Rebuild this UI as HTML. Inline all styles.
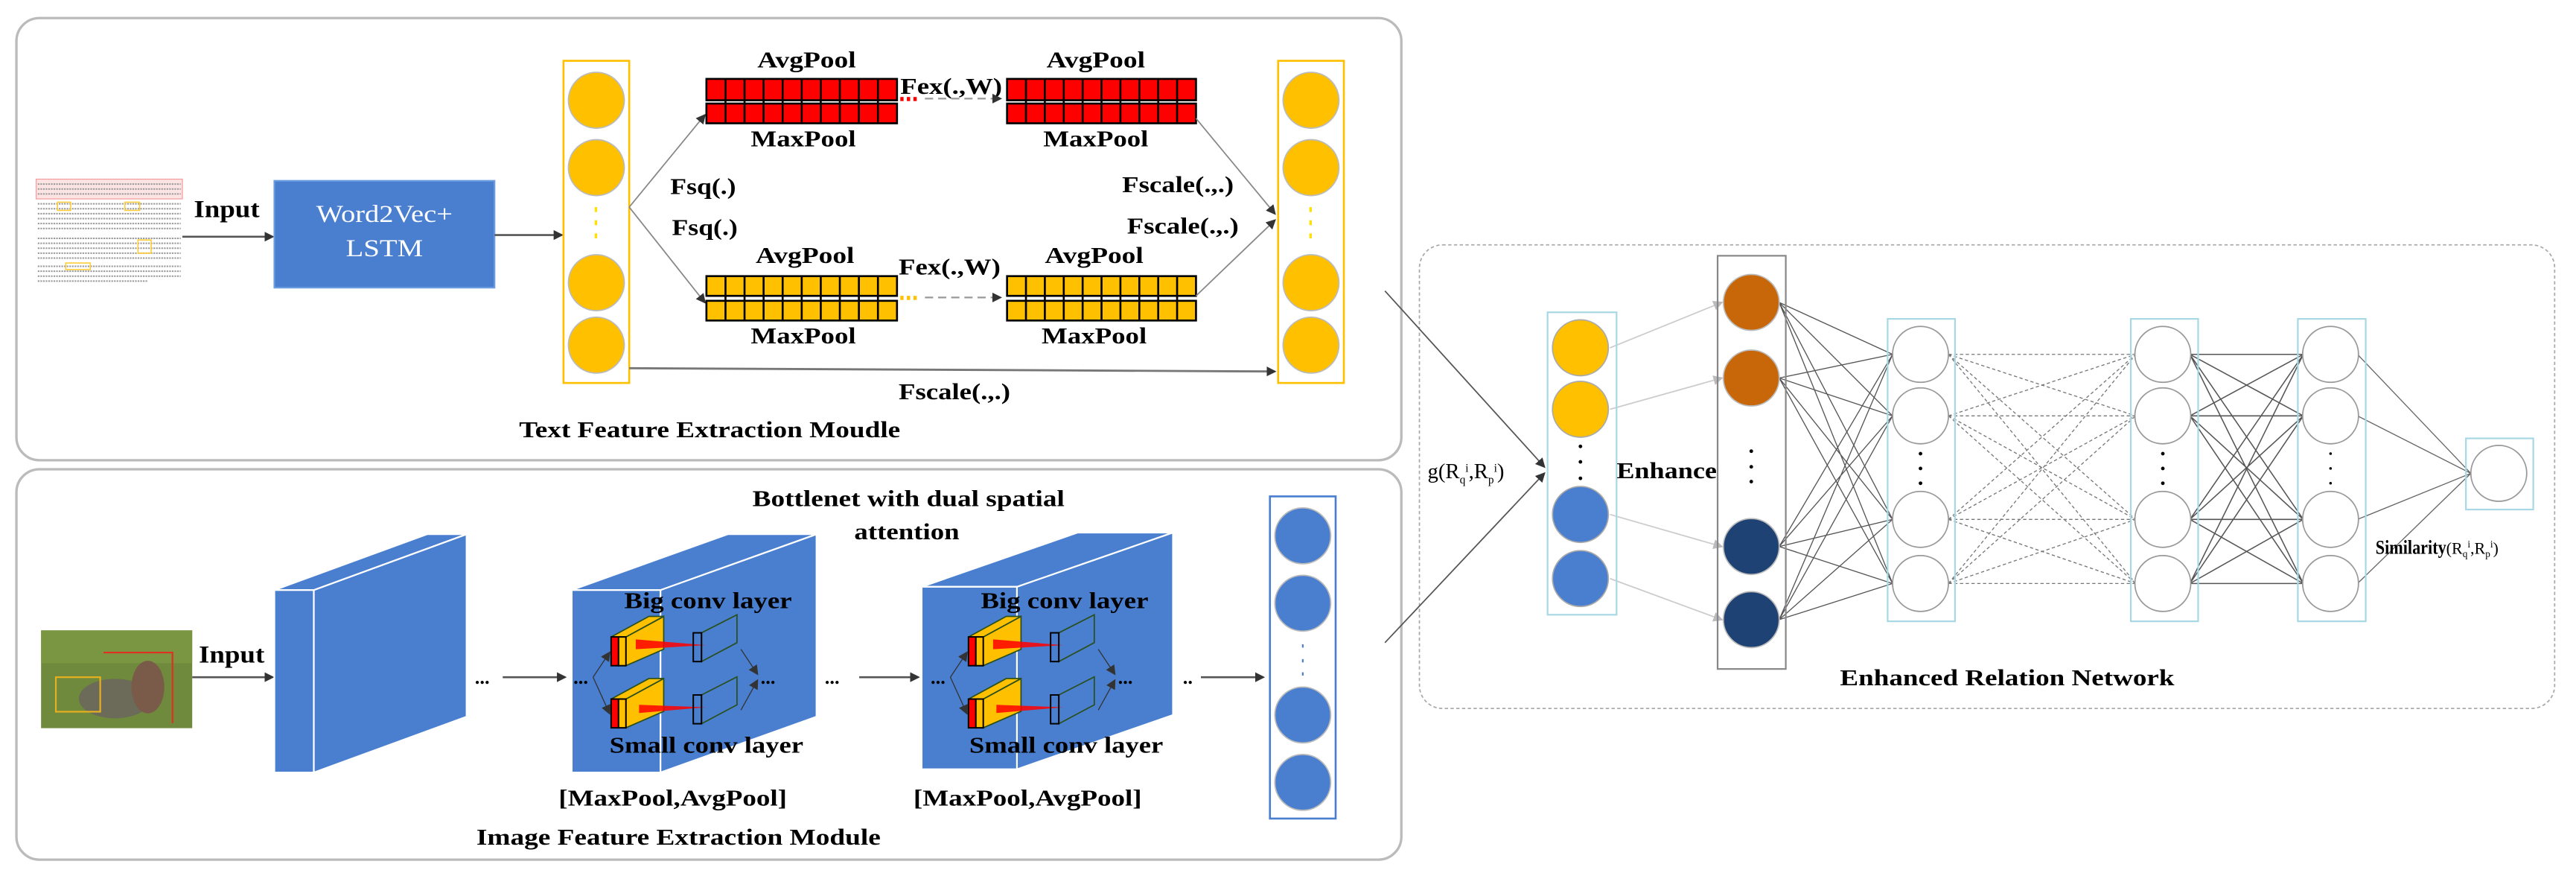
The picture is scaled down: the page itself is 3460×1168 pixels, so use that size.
<!DOCTYPE html>
<html><head><meta charset="utf-8"><style>
html,body{margin:0;padding:0;background:#fff;}
svg{display:block;}
text{font-family:"Liberation Serif",serif;font-weight:bold;fill:#000;}
</style></head><body>
<svg width="3460" height="1168" viewBox="0 0 1568 529.3" preserveAspectRatio="none" xmlns="http://www.w3.org/2000/svg">
<defs>
<marker id="ar" markerWidth="6" markerHeight="6" refX="5" refY="3" orient="auto" markerUnits="userSpaceOnUse"><path d="M0,0 L6,3 L0,6 z" fill="#333"/></marker>
<marker id="arl" markerWidth="6" markerHeight="6" refX="5" refY="3" orient="auto" markerUnits="userSpaceOnUse"><path d="M0,0 L6,3 L0,6 z" fill="#bbb"/></marker>
</defs>

<!-- panels -->
<rect x="10" y="11" width="843" height="269" rx="14" fill="#fff" stroke="#bbb" stroke-width="1.5"/>
<rect x="10" y="285.5" width="843" height="237.5" rx="14" fill="#fff" stroke="#bbb" stroke-width="1.5"/>
<rect x="864" y="149" width="691" height="282" rx="14" fill="none" stroke="#aaa" stroke-width="0.8" stroke-dasharray="2,1.5"/>

<!-- ===== TEXT MODULE ===== -->
<g>
<rect x="22" y="109" width="89" height="12" fill="#fde4e4" stroke="#f4a0a0" stroke-width="0.6"/>
<g stroke="#999" stroke-width="0.9">
<line x1="23" y1="112" x2="110" y2="112" stroke-dasharray="1,0.6"/><line x1="23" y1="115" x2="110" y2="115" stroke-dasharray="1,0.6"/><line x1="23" y1="118" x2="110" y2="118" stroke-dasharray="1,0.6"/>
<line x1="23" y1="124" x2="110" y2="124" stroke-dasharray="1,0.6"/><line x1="23" y1="127" x2="110" y2="127" stroke-dasharray="1,0.6"/><line x1="23" y1="130" x2="110" y2="130" stroke-dasharray="1,0.6"/><line x1="23" y1="133" x2="110" y2="133" stroke-dasharray="1,0.6"/><line x1="23" y1="136" x2="110" y2="136" stroke-dasharray="1,0.6"/><line x1="23" y1="139" x2="110" y2="139" stroke-dasharray="1,0.6"/>
<line x1="23" y1="145" x2="110" y2="145" stroke-dasharray="1,0.6"/><line x1="23" y1="148" x2="110" y2="148" stroke-dasharray="1,0.6"/><line x1="23" y1="151" x2="110" y2="151" stroke-dasharray="1,0.6"/><line x1="23" y1="154" x2="110" y2="154" stroke-dasharray="1,0.6"/><line x1="23" y1="157" x2="110" y2="157" stroke-dasharray="1,0.6"/>
<line x1="23" y1="162" x2="110" y2="162" stroke-dasharray="1,0.6"/><line x1="23" y1="165" x2="110" y2="165" stroke-dasharray="1,0.6"/><line x1="23" y1="168" x2="110" y2="168" stroke-dasharray="1,0.6"/><line x1="23" y1="171" x2="90" y2="171" stroke-dasharray="1,0.6"/>
</g>
<rect x="35" y="123" width="8" height="5" fill="none" stroke="#fc3" stroke-width="0.7"/>
<rect x="76" y="123" width="9" height="5" fill="none" stroke="#fc3" stroke-width="0.7"/>
<rect x="84" y="146" width="8" height="8" fill="none" stroke="#fc3" stroke-width="0.7"/>
<rect x="40" y="160" width="15" height="4" fill="none" stroke="#fc3" stroke-width="0.7"/>
</g>
<text x="118" y="132" font-size="15" textLength="40" lengthAdjust="spacingAndGlyphs">Input</text>
<line x1="111" y1="144" x2="166" y2="144" stroke="#555" stroke-width="1.2" marker-end="url(#ar)"/>
<rect x="167" y="110" width="134" height="65" fill="#4a7fd0" stroke="#6b9be0" stroke-width="1"/>
<text x="234" y="135" font-size="15" style="font-weight:normal;fill:#fff" text-anchor="middle" textLength="83" lengthAdjust="spacingAndGlyphs">Word2Vec+</text>
<text x="234" y="156" font-size="15" style="font-weight:normal;fill:#fff" text-anchor="middle" textLength="47" lengthAdjust="spacingAndGlyphs">LSTM</text>
<line x1="301" y1="143" x2="342" y2="143" stroke="#555" stroke-width="1.2" marker-end="url(#ar)"/>

<rect x="343" y="37" width="40" height="196" fill="#fff" stroke="#ffc000" stroke-width="1.2"/>
<g fill="#ffc000" stroke="#bbb" stroke-width="0.8">
<ellipse cx="363" cy="61" rx="17" ry="17"/><ellipse cx="363" cy="102" rx="17" ry="17"/>
<ellipse cx="363" cy="172" rx="17" ry="17"/><ellipse cx="363" cy="210" rx="17" ry="17"/>
</g>
<g fill="#ffe000"><rect x="362" y="126" width="1.5" height="3"/><rect x="362" y="134" width="1.5" height="3"/><rect x="362" y="142" width="1.5" height="3"/></g>
<rect x="778" y="37" width="40" height="196" fill="#fff" stroke="#ffc000" stroke-width="1.2"/>
<g fill="#ffc000" stroke="#bbb" stroke-width="0.8">
<ellipse cx="798" cy="61" rx="17" ry="17"/><ellipse cx="798" cy="102" rx="17" ry="17"/>
<ellipse cx="798" cy="172" rx="17" ry="17"/><ellipse cx="798" cy="210" rx="17" ry="17"/>
</g>
<g fill="#ffe000"><rect x="797" y="126" width="1.5" height="3"/><rect x="797" y="134" width="1.5" height="3"/><rect x="797" y="142" width="1.5" height="3"/></g>

<g stroke="#000" stroke-width="1.2">
<g fill="#f00">
<rect x="430" y="48" width="116" height="13"/><rect x="430" y="63" width="116" height="12"/>
<rect x="613" y="48" width="115" height="13"/><rect x="613" y="63" width="115" height="12"/>
</g>
<g fill="#ffc000">
<rect x="430" y="168" width="116" height="12"/><rect x="430" y="183" width="116" height="12"/>
<rect x="613" y="168" width="115" height="12"/><rect x="613" y="183" width="115" height="12"/>
</g>
<path d="M441.6,48v27M453.2,48v27M464.8,48v27M476.4,48v27M488,48v27M499.6,48v27M511.2,48v27M522.8,48v27M534.4,48v27
M624.5,48v27M636,48v27M647.5,48v27M659,48v27M670.5,48v27M682,48v27M693.5,48v27M705,48v27M716.5,48v27
M441.6,168v27M453.2,168v27M464.8,168v27M476.4,168v27M488,168v27M499.6,168v27M511.2,168v27M522.8,168v27M534.4,168v27
M624.5,168v27M636,168v27M647.5,168v27M659,168v27M670.5,168v27M682,168v27M693.5,168v27M705,168v27M716.5,168v27" fill="none"/>
</g>
<text x="461" y="41" font-size="14" textLength="60" lengthAdjust="spacingAndGlyphs">AvgPool</text>
<text x="637" y="41" font-size="14" textLength="60" lengthAdjust="spacingAndGlyphs">AvgPool</text>
<text x="457" y="89" font-size="14" textLength="64" lengthAdjust="spacingAndGlyphs">MaxPool</text>
<text x="635" y="89" font-size="14" textLength="64" lengthAdjust="spacingAndGlyphs">MaxPool</text>
<text x="548" y="57" font-size="14" textLength="62" lengthAdjust="spacingAndGlyphs">Fex(.,W)</text>
<text x="460" y="160" font-size="14" textLength="60" lengthAdjust="spacingAndGlyphs">AvgPool</text>
<text x="636" y="160" font-size="14" textLength="60" lengthAdjust="spacingAndGlyphs">AvgPool</text>
<text x="457" y="209" font-size="14" textLength="64" lengthAdjust="spacingAndGlyphs">MaxPool</text>
<text x="634" y="209" font-size="14" textLength="64" lengthAdjust="spacingAndGlyphs">MaxPool</text>
<text x="547" y="167" font-size="14" textLength="62" lengthAdjust="spacingAndGlyphs">Fex(.,W)</text>
<g fill="#f00"><rect x="548" y="59" width="2" height="2.5"/><rect x="552" y="59" width="2" height="2.5"/><rect x="556" y="59" width="2" height="2.5"/></g>
<line x1="563" y1="60" x2="609" y2="60" stroke="#999" stroke-width="1" stroke-dasharray="5,3" marker-end="url(#ar)"/>
<g fill="#ffc000"><rect x="548" y="180" width="2" height="2.5"/><rect x="552" y="180" width="2" height="2.5"/><rect x="556" y="180" width="2" height="2.5"/></g>
<line x1="563" y1="181" x2="609" y2="181" stroke="#999" stroke-width="1" stroke-dasharray="5,3" marker-end="url(#ar)"/>
<g stroke="#888" stroke-width="0.8" fill="none">
<line x1="383" y1="126" x2="429" y2="70" marker-end="url(#ar)"/>
<line x1="383" y1="126" x2="429" y2="184" marker-end="url(#ar)"/>
<line x1="728" y1="72" x2="776" y2="130" marker-end="url(#ar)"/>
<line x1="728" y1="180" x2="776" y2="134" marker-end="url(#ar)"/>
</g>
<line x1="383" y1="224" x2="776" y2="226" stroke="#777" stroke-width="1.3" marker-end="url(#ar)"/>
<text x="408" y="118" font-size="14" textLength="40" lengthAdjust="spacingAndGlyphs">Fsq(.)</text>
<text x="409" y="143" font-size="14" textLength="40" lengthAdjust="spacingAndGlyphs">Fsq(.)</text>
<text x="683" y="117" font-size="14" textLength="68" lengthAdjust="spacingAndGlyphs">Fscale(.,.)</text>
<text x="686" y="142" font-size="14" textLength="68" lengthAdjust="spacingAndGlyphs">Fscale(.,.)</text>
<text x="547" y="243" font-size="14" textLength="68" lengthAdjust="spacingAndGlyphs">Fscale(.,.)</text>
<text x="316" y="266" font-size="14" textLength="232" lengthAdjust="spacingAndGlyphs">Text Feature Extraction Moudle</text>

<!-- ===== IMAGE MODULE ===== -->
<rect x="25" y="383.5" width="92" height="59.5" fill="#6f8a3c"/>
<rect x="25" y="383.5" width="92" height="20" fill="#7d9844" opacity="0.8"/>
<ellipse cx="70" cy="425" rx="22" ry="12" fill="#6c6a58"/>
<ellipse cx="90" cy="418" rx="10" ry="16" fill="#7a5a48"/>
<rect x="34" y="412" width="27" height="21" fill="none" stroke="#e6b020" stroke-width="1"/>
<polyline points="63,397 105,397 105,440" fill="none" stroke="#e03020" stroke-width="1"/>
<text x="121" y="403" font-size="15" textLength="40" lengthAdjust="spacingAndGlyphs">Input</text>
<line x1="117" y1="412" x2="166" y2="412" stroke="#555" stroke-width="1.2" marker-end="url(#ar)"/>

<g fill="#4a7fd0" stroke="#fff" stroke-width="1">
<polygon points="191,359 284,325 284,436 191,470"/>
<polygon points="167,359 260,325 284,325 191,359"/>
<rect x="167" y="359" width="24" height="111"/>
</g>
<text x="289" y="416" font-size="12">...</text>
<line x1="306" y1="412" x2="344" y2="412" stroke="#555" stroke-width="1.2" marker-end="url(#ar)"/>
<g fill="#4a7fd0" stroke="#fff" stroke-width="1">
<polygon points="402,359 497,325 497,436 402,470"/>
<polygon points="348,359 443,325 497,325 402,359"/>
<rect x="348" y="359" width="54" height="111"/>
</g>
<g fill="#4a7fd0" stroke="#fff" stroke-width="1">
<polygon points="619,357 714,324 714,435 619,468"/>
<polygon points="561,357 656,324 714,324 619,357"/>
<rect x="561" y="357" width="58" height="111"/>
</g>

<g id="inner">
<g>
<polygon points="381,387.5 404,375 404,395 381,405" fill="#ffc000" stroke="#2a5020" stroke-width="0.8"/>
<polygon points="372,387.5 395,375 404,375 381,387.5" fill="#ffc000" stroke="#2a5020" stroke-width="0.8"/>
<rect x="372" y="387.5" width="4.5" height="17.5" fill="#f00" stroke="#000" stroke-width="0.9"/>
<rect x="376.5" y="387.5" width="4.5" height="17.5" fill="#ffc000" stroke="#000" stroke-width="0.9"/>
<polygon points="387,389 429.6,392.5 387,395" fill="#f00" opacity="0.85"/>
<polygon points="427,385 448.6,374 448.6,391 427,402.5" fill="none" stroke="#2a5020" stroke-width="0.8"/>
<rect x="422" y="385" width="5" height="17.5" fill="none" stroke="#000" stroke-width="0.9"/>
</g>
<g transform="translate(0,37.8)">
<polygon points="381,387.5 404,375 404,395 381,405" fill="#ffc000" stroke="#2a5020" stroke-width="0.8"/>
<polygon points="372,387.5 395,375 404,375 381,387.5" fill="#ffc000" stroke="#2a5020" stroke-width="0.8"/>
<rect x="372" y="387.5" width="4.5" height="17.5" fill="#f00" stroke="#000" stroke-width="0.9"/>
<rect x="376.5" y="387.5" width="4.5" height="17.5" fill="#ffc000" stroke="#000" stroke-width="0.9"/>
<polygon points="389,391 429.6,392.5 389,396" fill="#f00" opacity="0.85"/>
<polygon points="427,385 448.6,374 448.6,391 427,402.5" fill="none" stroke="#2a5020" stroke-width="0.8"/>
<rect x="422" y="385" width="5" height="17.5" fill="none" stroke="#000" stroke-width="0.9"/>
</g>
<g stroke="#333" stroke-width="0.6" fill="none">
<line x1="361" y1="412" x2="371" y2="397" marker-end="url(#ar)"/>
<line x1="361" y1="412" x2="371" y2="434" marker-end="url(#ar)"/>
<line x1="451" y1="395" x2="461" y2="410" marker-end="url(#ar)"/>
<line x1="451" y1="432" x2="461" y2="414" marker-end="url(#ar)"/>
</g>
<text x="349" y="416" font-size="12">...</text>
<text x="463" y="416" font-size="12">...</text>
</g>
<use href="#inner" transform="translate(217.5,0)"/>
<text x="380" y="370" font-size="14" textLength="102" lengthAdjust="spacingAndGlyphs">Big conv layer</text>
<text x="371" y="458" font-size="14" textLength="118" lengthAdjust="spacingAndGlyphs">Small conv layer</text>
<text x="597" y="370" font-size="14" textLength="102" lengthAdjust="spacingAndGlyphs">Big conv layer</text>
<text x="590" y="458" font-size="14" textLength="118" lengthAdjust="spacingAndGlyphs">Small conv layer</text>
<text x="340" y="490" font-size="14" textLength="139" lengthAdjust="spacingAndGlyphs">[MaxPool,AvgPool]</text>
<text x="556" y="490" font-size="14" textLength="139" lengthAdjust="spacingAndGlyphs">[MaxPool,AvgPool]</text>
<text x="458" y="308" font-size="14" textLength="190" lengthAdjust="spacingAndGlyphs">Bottlenet with dual spatial</text>
<text x="520" y="328" font-size="14" textLength="64" lengthAdjust="spacingAndGlyphs">attention</text>
<text x="290" y="514" font-size="14" textLength="246" lengthAdjust="spacingAndGlyphs">Image Feature Extraction Module</text>
<text x="502" y="416" font-size="12">...</text>
<line x1="523" y1="412" x2="559" y2="412" stroke="#555" stroke-width="1.2" marker-end="url(#ar)"/>
<text x="720" y="416" font-size="12">..</text>
<line x1="731" y1="412" x2="769" y2="412" stroke="#555" stroke-width="1.2" marker-end="url(#ar)"/>
<rect x="773" y="302" width="40" height="196" fill="#fff" stroke="#4a7fd0" stroke-width="1.2"/>
<g fill="#4a7fd0" stroke="#bbb" stroke-width="0.8">
<ellipse cx="793" cy="326" rx="17" ry="17"/><ellipse cx="793" cy="367" rx="17" ry="17"/>
<ellipse cx="793" cy="435" rx="17" ry="17"/><ellipse cx="793" cy="476" rx="17" ry="17"/>
</g>
<g fill="#4a7fd0"><rect x="792.5" y="392" width="1" height="2"/><rect x="792.5" y="401" width="1" height="2"/><rect x="792.5" y="409" width="1" height="2"/></g>

<!-- ===== RELATION NETWORK ===== -->
<line x1="843" y1="177" x2="940" y2="284" stroke="#555" stroke-width="0.8" marker-end="url(#ar)"/>
<line x1="843" y1="391" x2="940" y2="288" stroke="#555" stroke-width="0.8" marker-end="url(#ar)"/>
<text x="869" y="291" font-size="13" style="font-weight:normal">g(R<tspan font-size="7" dy="3">q</tspan><tspan font-size="7" dy="-7">i</tspan><tspan dy="4">,R</tspan><tspan font-size="7" dy="3">p</tspan><tspan font-size="7" dy="-7">i</tspan><tspan dy="4">)</tspan></text>

<g stroke="#ccc" stroke-width="0.8">
<line x1="980" y1="211.6" x2="1048" y2="184" marker-end="url(#arl)"/>
<line x1="980" y1="249" x2="1048" y2="230" marker-end="url(#arl)"/>
<line x1="980" y1="313" x2="1048" y2="332.5" marker-end="url(#arl)"/>
<line x1="980" y1="352" x2="1048" y2="377" marker-end="url(#arl)"/>
</g>
<g stroke="#555" stroke-width="0.6">
<path d="M1083,184L1152,215.6M1083,184L1152,253M1083,184L1152,316M1083,184L1152,355
M1083,230L1152,215.6M1083,230L1152,253M1083,230L1152,316M1083,230L1152,355
M1083,332.5L1152,215.6M1083,332.5L1152,253M1083,332.5L1152,316M1083,332.5L1152,355
M1083,377L1152,215.6M1083,377L1152,253M1083,377L1152,316M1083,377L1152,355"/>
</g>
<g stroke="#777" stroke-width="0.6" stroke-dasharray="2,1.5">
<path d="M1186,215.6L1300,215.6M1186,215.6L1300,253M1186,215.6L1300,316M1186,215.6L1300,355
M1186,253L1300,215.6M1186,253L1300,253M1186,253L1300,316M1186,253L1300,355
M1186,316L1300,215.6M1186,316L1300,253M1186,316L1300,316M1186,316L1300,355
M1186,355L1300,215.6M1186,355L1300,253M1186,355L1300,316M1186,355L1300,355"/>
</g>
<g stroke="#555" stroke-width="0.7">
<path d="M1333,215.6L1402,215.6M1333,215.6L1402,253M1333,215.6L1402,316M1333,215.6L1402,355
M1333,253L1402,215.6M1333,253L1402,253M1333,253L1402,316M1333,253L1402,355
M1333,316L1402,215.6M1333,316L1402,253M1333,316L1402,316M1333,316L1402,355
M1333,355L1402,215.6M1333,355L1402,253M1333,355L1402,316M1333,355L1402,355"/>
</g>
<g stroke="#666" stroke-width="0.6">
<path d="M1435,215.6L1504,288M1435,253L1504,288M1435,316L1504,288M1435,355L1504,288"/>
</g>

<rect x="942" y="190" width="42" height="184" fill="none" stroke="#a8d8e4" stroke-width="1"/>
<g stroke="#aaa" stroke-width="0.8">
<ellipse cx="962" cy="211.6" rx="17" ry="17" fill="#ffc000"/><ellipse cx="962" cy="249" rx="17" ry="17" fill="#ffc000"/>
<ellipse cx="962" cy="313" rx="17" ry="17" fill="#4a7fd0"/><ellipse cx="962" cy="352" rx="17" ry="17" fill="#4a7fd0"/>
</g>
<g fill="#000"><circle cx="962" cy="271.6" r="1.1"/><circle cx="962" cy="281" r="1.1"/><circle cx="962" cy="291" r="1.1"/></g>
<text x="984" y="291" font-size="14" textLength="61" lengthAdjust="spacingAndGlyphs">Enhance</text>
<rect x="1045.5" y="155.6" width="41.5" height="251.4" fill="none" stroke="#888" stroke-width="1"/>
<g stroke="#bbb" stroke-width="0.8">
<ellipse cx="1066" cy="184" rx="17" ry="17" fill="#c8660a"/><ellipse cx="1066" cy="230" rx="17" ry="17" fill="#c8660a"/>
<ellipse cx="1066" cy="332.5" rx="17" ry="17" fill="#1f4274"/><ellipse cx="1066" cy="377" rx="17" ry="17" fill="#1f4274"/>
</g>
<g fill="#000"><circle cx="1066" cy="274.5" r="1.1"/><circle cx="1066" cy="284" r="1.1"/><circle cx="1066" cy="293" r="1.1"/></g>
<g fill="none" stroke="#a8d8e4" stroke-width="1">
<rect x="1149" y="194" width="41" height="184"/>
<rect x="1297" y="194" width="41" height="184"/>
<rect x="1398.7" y="194" width="41.3" height="184"/>
<rect x="1501" y="266.7" width="41" height="43.3"/>
</g>
<g fill="#fff" stroke="#999" stroke-width="0.8">
<ellipse cx="1169" cy="215.6" rx="17" ry="17"/><ellipse cx="1169" cy="253" rx="17" ry="17"/><ellipse cx="1169" cy="316" rx="17" ry="17"/><ellipse cx="1169" cy="355" rx="17" ry="17"/>
<ellipse cx="1316.5" cy="215.6" rx="17" ry="17"/><ellipse cx="1316.5" cy="253" rx="17" ry="17"/><ellipse cx="1316.5" cy="316" rx="17" ry="17"/><ellipse cx="1316.5" cy="355" rx="17" ry="17"/>
<ellipse cx="1418.6" cy="215.6" rx="17" ry="17"/><ellipse cx="1418.6" cy="253" rx="17" ry="17"/><ellipse cx="1418.6" cy="316" rx="17" ry="17"/><ellipse cx="1418.6" cy="355" rx="17" ry="17"/>
<ellipse cx="1521" cy="288" rx="17" ry="17"/>
</g>
<g fill="#000"><circle cx="1169" cy="276" r="1.1"/><circle cx="1169" cy="285" r="1.1"/><circle cx="1169" cy="294" r="1.1"/>
<circle cx="1316.5" cy="276" r="1.1"/><circle cx="1316.5" cy="285" r="1.1"/><circle cx="1316.5" cy="294" r="1.1"/>
<circle cx="1418.6" cy="276" r="0.8"/><circle cx="1418.6" cy="285" r="0.8"/><circle cx="1418.6" cy="294" r="0.8"/></g>
<text x="1446" y="337" font-size="12" textLength="43" lengthAdjust="spacingAndGlyphs">Similarity</text><text x="1489" y="337" font-size="10" style="font-weight:normal">(R<tspan font-size="6" dy="2">q</tspan><tspan font-size="6" dy="-6">i</tspan><tspan dy="4">,R</tspan><tspan font-size="6" dy="2">p</tspan><tspan font-size="6" dy="-6">i</tspan><tspan dy="4">)</tspan></text>
<text x="1120" y="417" font-size="14" textLength="203.5" lengthAdjust="spacingAndGlyphs">Enhanced Relation Network</text>
</svg>
</body></html>
